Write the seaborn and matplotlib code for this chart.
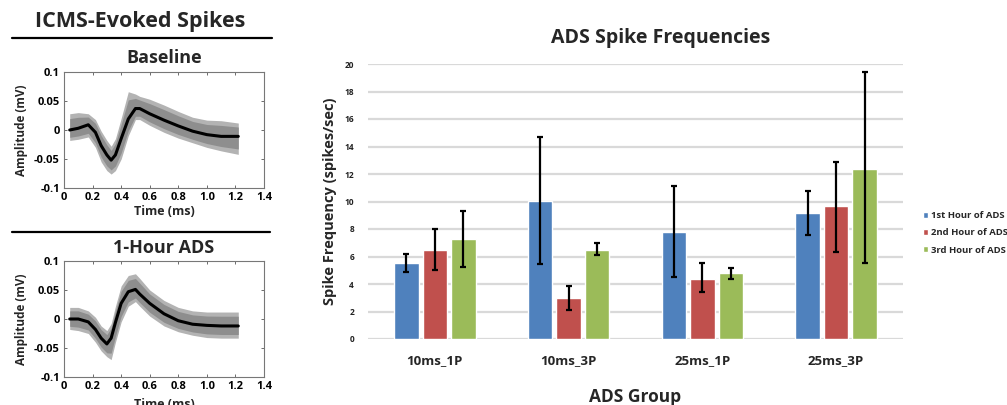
import numpy as np
import pandas as pd
import matplotlib
matplotlib.use("Agg")
import matplotlib.pyplot as plt
from matplotlib.lines import Line2D
import seaborn as sns

sns.set_theme(style="white")
plt.rcParams['font.family'] = ['Open Sans', 'DejaVu Sans']
plt.rcParams['font.weight'] = 'bold'

# ---------------- data: spike waveforms ----------------
time_ms = [0.04, 0.10, 0.17, 0.22, 0.26, 0.30, 0.33, 0.36, 0.40, 0.45,
           0.50, 0.53, 0.60, 0.70, 0.80, 0.90, 1.00, 1.10, 1.22]
base_mean = [0.0, 0.003, 0.009, -0.004, -0.027, -0.043, -0.052, -0.043, -0.015, 0.019,
             0.037, 0.037, 0.028, 0.017, 0.007, -0.002, -0.008, -0.011, -0.011]
base_upper = [0.028, 0.030, 0.028, 0.018, -0.002, -0.018, -0.028, -0.015, 0.020, 0.066,
              0.062, 0.058, 0.053, 0.043, 0.032, 0.022, 0.017, 0.016, 0.012]
base_lower = [-0.018, -0.016, -0.012, -0.030, -0.055, -0.070, -0.076, -0.070, -0.050, -0.010,
              0.018, 0.018, 0.008, -0.004, -0.014, -0.022, -0.030, -0.036, -0.042]
ads_mean = [0.0, 0.0, -0.005, -0.018, -0.033, -0.043, -0.033, -0.006, 0.027, 0.047,
            0.051, 0.043, 0.027, 0.009, -0.003, -0.009, -0.011, -0.012, -0.012]
ads_upper = [0.020, 0.020, 0.014, 0.003, -0.012, -0.020, -0.008, 0.022, 0.057, 0.075,
             0.078, 0.070, 0.050, 0.032, 0.020, 0.014, 0.012, 0.012, 0.012]
ads_lower = [-0.018, -0.020, -0.025, -0.040, -0.055, -0.065, -0.070, -0.040, -0.005, 0.022,
             0.030, 0.022, 0.005, -0.012, -0.022, -0.028, -0.032, -0.033, -0.033]

# ---------------- data: bar chart ----------------
groups = ["10ms_1P", "10ms_3P", "25ms_1P", "25ms_3P"]
hours = ["1st Hour of ADS", "2nd Hour of ADS", "3rd Hour of ADS"]
hour1_mean = [5.5, 10.05, 7.8, 9.2]
hour1_hi = [6.15, 14.7, 11.1, 10.8]
hour1_lo = [4.9, 5.45, 4.5, 7.6]
hour2_mean = [6.5, 3.0, 4.4, 9.7]
hour2_hi = [8.0, 3.87, 5.5, 12.9]
hour2_lo = [5.05, 2.13, 3.4, 6.3]
hour3_mean = [7.26, 6.5, 4.8, 12.4]
hour3_hi = [9.34, 7.0, 5.2, 19.4]
hour3_lo = [5.25, 6.1, 4.4, 5.5]
bar_colors = ["#4F81BD", "#C0504D", "#9BBB59"]

W, H = 1007, 405
fig = plt.figure(figsize=(W / 100, H / 100), dpi=100)

def fx(px):
    return px / W

def fy(py):
    return 1 - py / H

# ---------------- left: waveform panels ----------------
def wave_panel(rect, mean, upper, lower, xpad):
    ax = fig.add_axes(rect)
    ax.fill_between(time_ms, lower, upper, color="#B3B3B3", lw=0)
    inner_hi = [m + 0.7 * (u - m) for m, u in zip(mean, upper)]
    inner_lo = [m - 0.7 * (m - l) for m, l in zip(mean, lower)]
    ax.fill_between(time_ms, inner_lo, inner_hi, color="#8E8E8E", lw=0)
    df = pd.DataFrame({"t": time_ms, "v": mean})
    sns.lineplot(data=df, x="t", y="v", color="black", lw=2.2, ax=ax)
    ax.set_xlim(0, 1.4)
    ax.set_ylim(-0.1, 0.1)
    ax.set_xticks([0, 0.2, 0.4, 0.6, 0.8, 1.0, 1.2, 1.4])
    ax.set_xticklabels(["0", "0.2", "0.4", "0.6", "0.8", "1.0", "1.2", "1.4"])
    ax.set_yticks([-0.1, -0.05, 0, 0.05, 0.1])
    ax.set_yticklabels(["-0.1", "-0.05", "0", "0.05", "0.1"])
    ax.tick_params(direction="in", length=2, width=0.6, colors="#555555",
                   labelcolor="black", labelsize=8, pad=3,
                   top=True, right=True, bottom=True, left=True)
    for lab in ax.get_xticklabels() + ax.get_yticklabels():
        lab.set_fontweight("bold")
    for s in ax.spines.values():
        s.set_color("#777777")
        s.set_linewidth(0.8)
    ax.set_ylabel("Amplitude (mV)", fontsize=8.5, fontweight="bold", labelpad=4)
    ax.set_xlabel("Time (ms)", fontsize=9, fontweight="bold", labelpad=xpad)
    return ax

ax1 = wave_panel([fx(64), fy(188), fx(200), 116 / H], base_mean, base_upper, base_lower, 1)
ax2 = wave_panel([fx(64), fy(377), fx(200), 116 / H], ads_mean, ads_upper, ads_lower, 4)

fig.text(fx(140), fy(22), "ICMS-Evoked Spikes", ha="center", va="center",
         fontsize=15.5, fontweight="bold")
fig.add_artist(Line2D([fx(12), fx(272)], [fy(38), fy(38)], color="black", lw=1.6))
fig.text(fx(164), fy(58), "Baseline", ha="center", va="center", fontsize=13, fontweight="bold")
fig.add_artist(Line2D([fx(12), fx(270)], [fy(232), fy(232)], color="black", lw=1.6))
fig.text(fx(164), fy(248), "1-Hour ADS", ha="center", va="center", fontsize=13, fontweight="bold")

# ---------------- right: bar chart ----------------
rows = []
for h, means in zip(hours, [hour1_mean, hour2_mean, hour3_mean]):
    for g, v in zip(groups, means):
        rows.append({"group": g, "hour": h, "value": v})
bdf = pd.DataFrame(rows)

axb = fig.add_axes([fx(368), fy(339), fx(535), 275 / H])
sns.barplot(data=bdf, x="group", y="value", hue="hour", order=groups, hue_order=hours,
            palette=bar_colors, width=0.64, gap=0.14, errorbar=None, saturation=1,
            ax=axb)
his = [hour1_hi, hour2_hi, hour3_hi]
los = [hour1_lo, hour2_lo, hour3_lo]
for cont, hi, lo, mean in zip(axb.containers, his, los, [hour1_mean, hour2_mean, hour3_mean]):
    xs = [b.get_x() + b.get_width() / 2 for b in cont]
    yerr = np.array([[m - l for m, l in zip(mean, lo)], [h - m for m, h in zip(mean, hi)]])
    axb.errorbar(xs, mean, yerr=yerr, fmt="none", ecolor="black", elinewidth=1.6,
                 capsize=2.5, capthick=1.6, zorder=5)

axb.set_xlim(-0.5, 3.5)
axb.set_ylim(0, 20)
axb.set_yticks(range(0, 21, 2))
axb.yaxis.grid(True, color="#D9D9D9", lw=1.6)
axb.set_axisbelow(True)
for s in axb.spines.values():
    s.set_visible(False)
axb.tick_params(axis="y", length=0, labelsize=6, pad=10, labelcolor="#222222")
axb.tick_params(axis="x", length=0, labelsize=9.5, pad=11)
for lab in axb.get_xticklabels() + axb.get_yticklabels():
    lab.set_fontweight("bold")
axb.set_ylabel("Spike Frequency (spikes/sec)", fontsize=10.5, fontweight="bold")
axb.yaxis.set_label_coords(-0.058, 0.5)
axb.set_xlabel("ADS Group", fontsize=12.5, fontweight="bold", labelpad=15)
fig.text(fx(661), fy(38), "ADS Spike Frequencies", ha="center", va="center",
         fontsize=14, fontweight="bold")

handles, labels = axb.get_legend_handles_labels()
axb.legend(handles, labels, loc="center left", bbox_to_anchor=(fx(914), fy(233)),
           bbox_transform=fig.transFigure, frameon=False, handlelength=0.55,
           handleheight=0.55, handletextpad=0.35, labelspacing=0.85,
           prop={"weight": "bold", "size": 6.8})

fig.savefig("out.png", dpi=100)
